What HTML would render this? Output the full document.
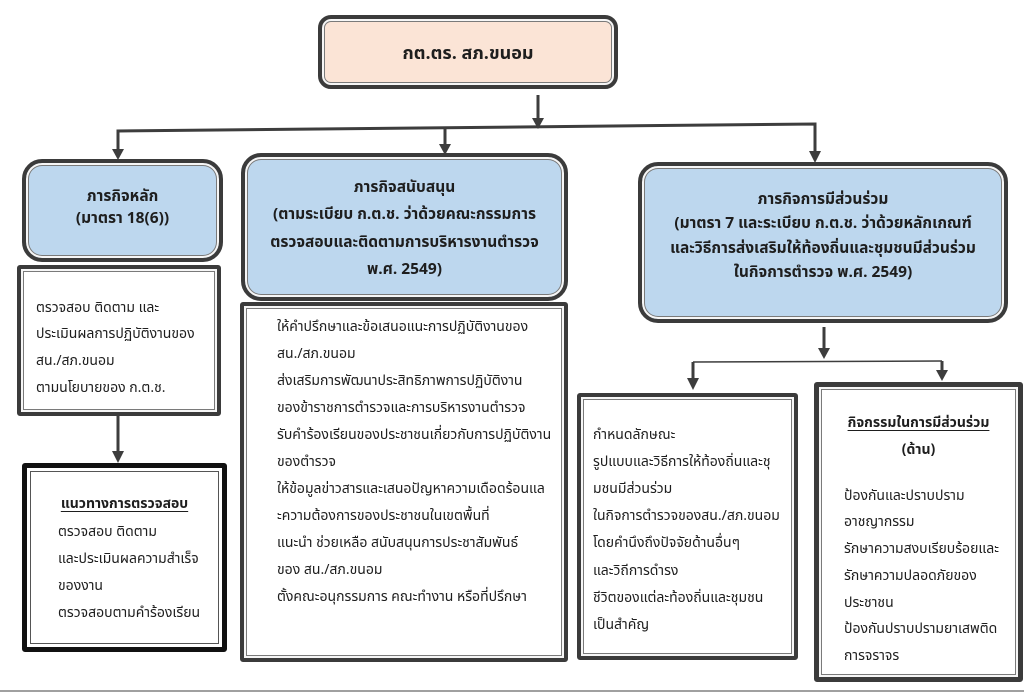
<!DOCTYPE html>
<html lang="th">
<head>
<meta charset="utf-8">
<style>
  html,body{margin:0;padding:0;}
  body{width:1024px;height:693px;position:relative;background:#fff;overflow:hidden;
    font-family:"Tahoma","Leelawadee UI","Leelawadee","Noto Sans Thai","Garuda","Loma","Waree","Liberation Sans","DejaVu Sans",sans-serif;color:#1e1e1e;}
  .b{position:absolute;box-sizing:border-box;border:4px solid #3b3b3b;
     box-shadow:inset 0 0 0 2px #f6f6f6, inset 0 0 0 3px #7a7a7a;}
  .blue{background:#bdd7ee;border-radius:20px;}
  .peach{background:#fbe4d6;border-radius:13px;}
  .white{background:#fff;border-radius:3px;}
  .blk{border:5px solid #111;box-shadow:inset 0 0 0 3px #fff, inset 0 0 0 4px #555;}
  .t{position:absolute;white-space:nowrap;}
  .c{text-align:center;}
  .bold{font-weight:bold;}
  .n{font-size:14px;}
  .h{font-size:15.5px;font-weight:bold;}
  u{text-decoration:underline;text-underline-offset:3px;}
</style>
</head>
<body>

<!-- connectors -->
<svg width="1024" height="693" style="position:absolute;left:0;top:0;" xmlns="http://www.w3.org/2000/svg">
  <g stroke="#3d3d3d" stroke-width="3" fill="none">
    <line x1="538" y1="95" x2="538" y2="119"/>
    <polyline points="118,150 118,131 815,124 815,152"/>
    <line x1="445" y1="129" x2="445" y2="145"/>
    <line x1="118" y1="416" x2="118" y2="452"/>
    <line x1="824" y1="327" x2="824" y2="349"/>
    <line x1="693" y1="362" x2="693" y2="380"/>
    <line x1="942" y1="361" x2="942" y2="372"/>
  </g>
  <line x1="693" y1="362" x2="942" y2="361" stroke="#3d3d3d" stroke-width="1.5"/>
  <g fill="#3d3d3d">
    <polygon points="532,118 544,118 538,129"/>
    <polygon points="112,149 124,149 118,160"/>
    <polygon points="439,144 451,144 445,155"/>
    <polygon points="809,151 821,151 815,163"/>
    <polygon points="112,451 124,451 118,463"/>
    <polygon points="818,348 830,348 824,359"/>
    <polygon points="687,378 699,378 693,390"/>
    <polygon points="936,370 948,370 942,381"/>
  </g>
  <rect x="0" y="690" width="1024" height="2" fill="#a0a0a0"/>
</svg>

<!-- top box -->
<div class="b peach" style="left:318px;top:15px;width:300px;height:74px;"></div>
<div class="t c bold" style="left:318px;top:42px;width:300px;line-height:26px;font-size:18px;">กต.ตร. สภ.ขนอม</div>

<!-- left blue -->
<div class="b blue" style="left:22px;top:159px;width:201px;height:103px;"></div>
<div class="t c h" style="left:22px;top:186px;width:201px;line-height:21.5px;">ภารกิจหลัก<br>(มาตรา 18(6))</div>

<!-- middle blue -->
<div class="b blue" style="left:241px;top:153px;width:327px;height:148px;"></div>
<div class="t c h" style="left:241px;top:173.5px;width:327px;line-height:27.5px;">ภารกิจสนับสนุน<br>(ตามระเบียบ ก.ต.ช. ว่าด้วยคณะกรรมการ<br>ตรวจสอบและติดตามการบริหารงานตำรวจ<br>พ.ศ. 2549)</div>

<!-- right blue -->
<div class="b blue" style="left:638px;top:162px;width:370px;height:161px;"></div>
<div class="t c h" style="left:638px;top:187.5px;width:370px;line-height:24.5px;">ภารกิจการมีส่วนร่วม<br>(มาตรา 7 และระเบียบ ก.ต.ช. ว่าด้วยหลักเกณฑ์<br>และวิธีการส่งเสริมให้ท้องถิ่นและชุมชนมีส่วนร่วม<br>ในกิจการตำรวจ พ.ศ. 2549)</div>

<!-- left white -->
<div class="b white" style="left:17px;top:265px;width:204px;height:151px;"></div>
<div class="t n" style="left:36px;top:295.5px;line-height:26.8px;">ตรวจสอบ ติดตาม และ<br>ประเมินผลการปฏิบัติงานของ<br>สน./สภ.ขนอม<br>ตามนโยบายของ ก.ต.ช.</div>

<!-- left bottom -->
<div class="b white blk" style="left:22px;top:463px;width:205px;height:189px;"></div>
<div class="t c bold n" style="left:22px;top:492px;width:205px;line-height:26px;"><u>แนวทางการตรวจสอบ</u></div>
<div class="t n" style="left:58px;top:518.5px;line-height:27px;">ตรวจสอบ ติดตาม<br>และประเมินผลความสำเร็จ<br>ของงาน<br>ตรวจสอบตามคำร้องเรียน</div>

<!-- middle white -->
<div class="b white" style="left:240px;top:302px;width:328px;height:360px;"></div>
<div class="t n" style="left:277px;top:313.5px;line-height:27px;">ให้คำปรึกษาและข้อเสนอแนะการปฏิบัติงานของ<br>สน./สภ.ขนอม<br>ส่งเสริมการพัฒนาประสิทธิภาพการปฏิบัติงาน<br>ของข้าราชการตำรวจและการบริหารงานตำรวจ<br>รับคำร้องเรียนของประชาชนเกี่ยวกับการปฏิบัติงาน<br>ของตำรวจ<br>ให้ข้อมูลข่าวสารและเสนอปัญหาความเดือดร้อนแล<br>ะความต้องการของประชาชนในเขตพื้นที่<br>แนะนำ ช่วยเหลือ สนับสนุนการประชาสัมพันธ์<br>ของ สน./สภ.ขนอม<br>ตั้งคณะอนุกรรมการ คณะทำงาน หรือที่ปรึกษา</div>

<!-- bottom-left right group -->
<div class="b white" style="left:577px;top:393px;width:221px;height:267px;"></div>
<div class="t n" style="left:593px;top:421.5px;line-height:27.2px;">กำหนดลักษณะ<br>รูปแบบและวิธีการให้ท้องถิ่นและชุ<br>มชนมีส่วนร่วม<br>ในกิจการตำรวจของสน./สภ.ขนอม<br>โดยคำนึงถึงปัจจัยด้านอื่นๆ<br>และวิถีการดำรง<br>ชีวิตของแต่ละท้องถิ่นและชุมชน<br>เป็นสำคัญ</div>

<!-- bottom-right -->
<div class="b white" style="left:814px;top:382px;width:209px;height:300px;border-width:5px;"></div>
<div class="t c bold n" style="left:814px;top:409.5px;width:209px;line-height:27px;"><u>กิจกรรมในการมีส่วนร่วม</u><br>(ด้าน)</div>
<div class="t n" style="left:844px;top:483.5px;line-height:26.8px;">ป้องกันและปราบปราม<br>อาชญากรรม<br>รักษาความสงบเรียบร้อยและ<br>รักษาความปลอดภัยของ<br>ประชาชน<br>ป้องกันปราบปรามยาเสพติด<br>การจราจร</div>

</body>
</html>
